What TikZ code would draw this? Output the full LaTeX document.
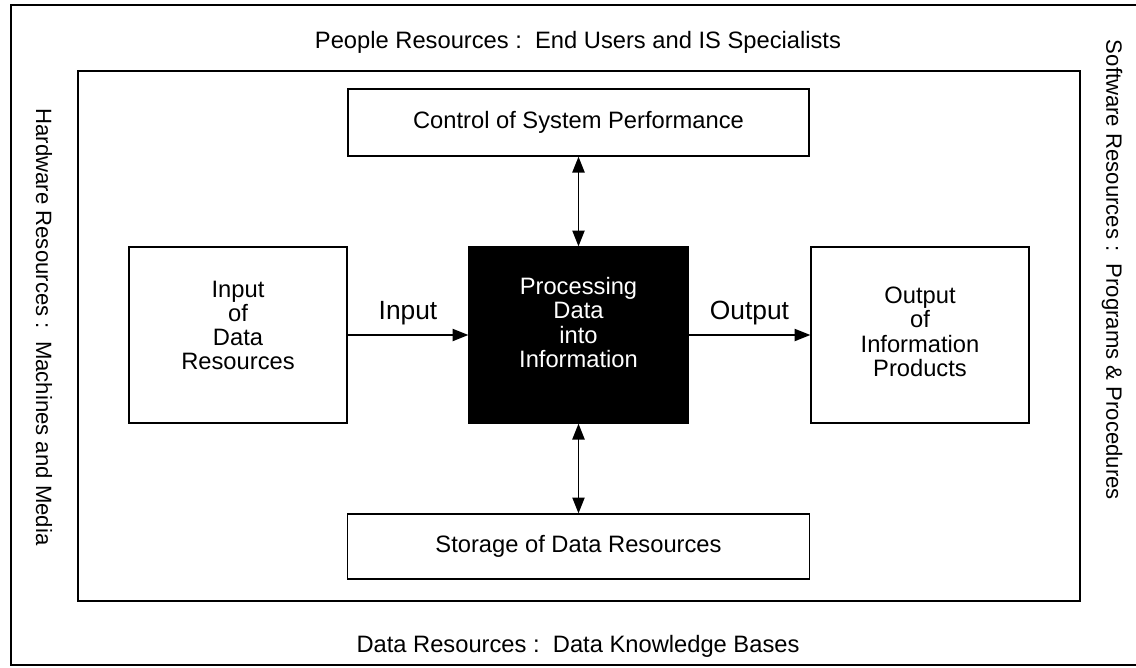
\documentclass[tikz,border=0pt]{standalone}
\usepackage{fontspec}
\setmainfont{Liberation Sans}
\usetikzlibrary{arrows.meta,positioning}

\begin{document}
\begin{tikzpicture}[
    x=0.02cm, y=-0.02cm,
    boxnode/.style={draw, line width=0.8pt, font=\fontsize{13.5}{13.7}\selectfont, inner sep=0pt},
    procnode/.style={boxnode, fill=black, text=white},
    sidenode/.style={font=\fontsize{13.5}{16}\selectfont},
    vertnode/.style={font=\fontsize{12.6}{15}\selectfont, rotate=-90},
    flownode/.style={font=\fontsize{15}{18}\selectfont},
    flow/.style={line width=0.8pt, -{Triangle[length=9pt,width=7pt]}},
    dflow/.style={line width=0.8pt, {Triangle[length=9pt,width=7pt]}-{Triangle[length=9pt,width=7pt]}}
]
\useasboundingbox (0,0) rectangle (1136,667);
% Frames
\draw[line width=0.9pt] (1136,5) -- (11,5) -- (11,665) -- (1136,665);
\draw[line width=0.9pt] (78,71) rectangle (1080,601);
% Resource labels
\node[sidenode] (people) at (578,42) {People Resources :\ \ End Users and IS Specialists};
\node[sidenode] (data) at (578,646) {Data Resources :\ \ Data Knowledge Bases};
\node[vertnode] (hardware) at (44,327) {Hardware Resources :\ \ Machines and Media};
\node[vertnode] (software) at (1112,270) {Software Resources :\ \ Programs \& Procedures};
% Activities
\node[boxnode, minimum width=9.22cm, minimum height=1.34cm] (ctrl) at (578.5,122.5) {Control of System Performance};
\node[boxnode, minimum width=4.36cm, minimum height=3.52cm] (inp) at (238,335)
    {\begin{tabular}{@{}c@{}}Input\\of\\Data\\Resources\\[7pt]\end{tabular}};
\node[procnode, minimum width=4.38cm, minimum height=3.52cm] (proc) at (578.5,335)
    {\begin{tabular}{@{}c@{}}Processing\\Data\\into\\Information\\[10pt]\end{tabular}};
\node[boxnode, minimum width=4.36cm, minimum height=3.52cm] (outp) at (920,335)
    {\begin{tabular}{@{}c@{}}Output\\of\\Information\\Products\end{tabular}};
\node[boxnode, minimum width=9.24cm, minimum height=1.30cm] (store) at (578.5,546.5) {Storage of Data Resources};
% Flows
\draw[flow] (inp) -- node[flownode, above=2pt] (inlbl) {Input} (proc);
\draw[flow] (proc) -- node[flownode, above=2pt] (outlbl) {Output} (outp);
\draw[dflow] (ctrl.south) -- (proc.north);
\draw[dflow] (store.north) -- (proc.south);
\end{tikzpicture}
\end{document}
